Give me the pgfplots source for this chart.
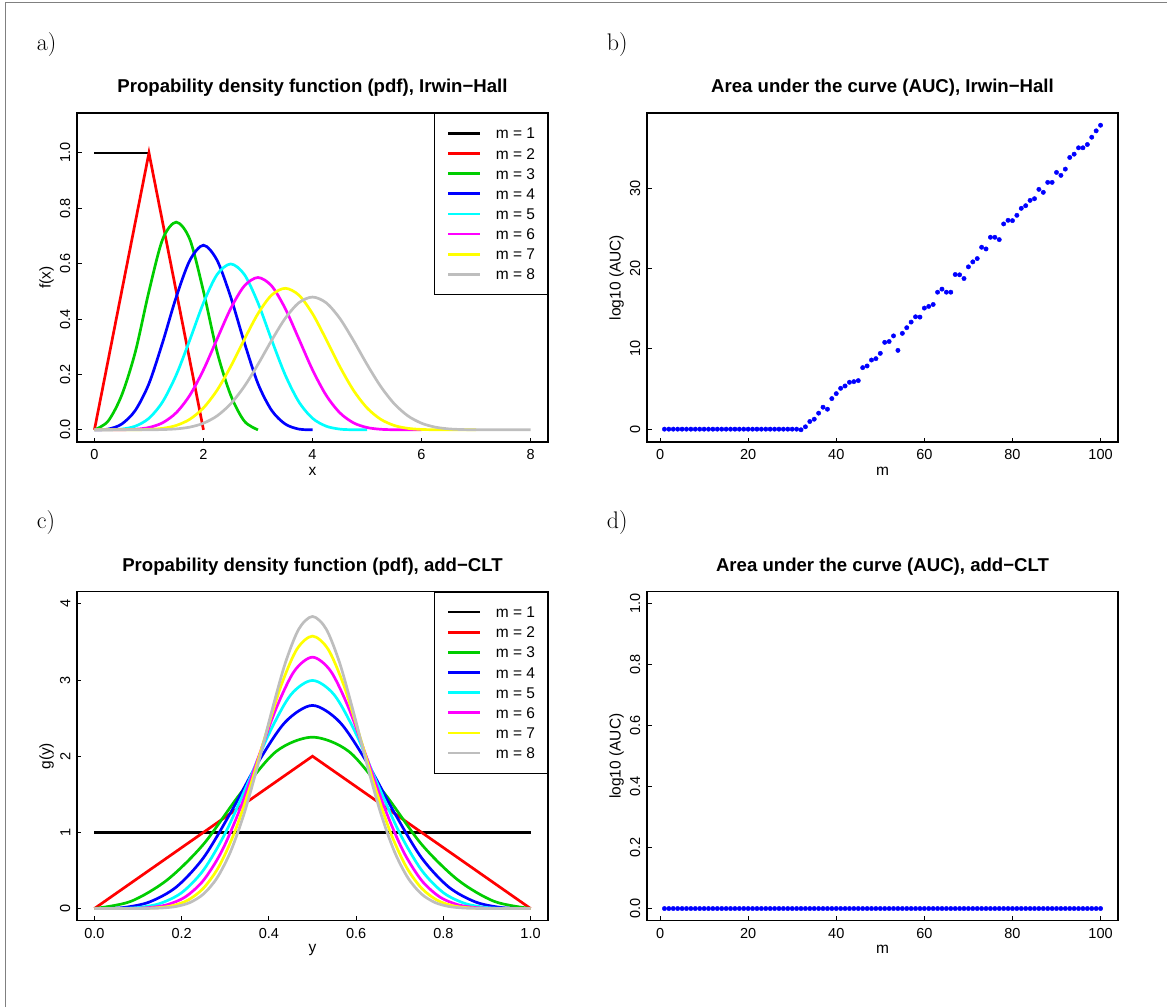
\documentclass[border=0pt]{standalone}
\usepackage{pgfplots}
\pgfplotsset{compat=1.18}
\usepackage{fontspec}
\newfontfamily\hv{Liberation Sans}

\definecolor{rgreen}{RGB}{0,205,0}
\definecolor{rcyan}{RGB}{0,255,255}
\definecolor{rmagenta}{RGB}{255,0,255}
\definecolor{ryellow}{RGB}{255,255,0}
\definecolor{rgray}{RGB}{190,190,190}
\definecolor{rframe}{RGB}{128,128,128}

\pgfplotsset{
  rplot/.style={
    scale only axis, width=471pt, height=329pt, anchor=north west,
    axis line style={line width=1.1pt},
    tick align=inside, major tick length=4.5pt,
    tick style={black, line width=0.9pt},
    xtick pos=left, ytick pos=left,
    /pgf/number format/assume math mode=true,
    tick label style={font=\hv\fontsize{14.5}{14.5}\selectfont},
    xticklabel style={inner sep=7.5pt},
    yticklabel style={rotate=90, anchor=south, inner sep=6.5pt},
    label style={font=\hv\fontsize{15.5}{15.5}\selectfont},
    xlabel style={at={(axis description cs:0.5,-0.088)}, anchor=center},
    ylabel style={at={(axis description cs:-0.0643,0.5)}, anchor=center},
    legend cell align=left,
    legend style={at={(1,1)}, anchor=north east, draw=black, line width=0.9pt,
      font=\hv\fontsize{15.5}{15.5}\selectfont,
      inner xsep=12.5pt, inner ysep=9.9pt, column sep=14.7pt, row sep=0pt,
      nodes={inner sep=0pt, minimum height=20.14pt, text height=11pt, text depth=0pt}},
    legend image code/.code={\draw[##1, line width=2.7pt] (0pt,0pt) -- (31.6pt,0pt);},
  },
  curve/.style={line width=2.7pt, color=#1},
  dots/.style={only marks, mark=*, mark size=2.2pt, color=blue},
}

\begin{document}
\begin{tikzpicture}
\useasboundingbox (0pt,0pt) rectangle (1167pt,-1007pt);
\draw[rframe, line width=1.3pt] (5.7pt,-1007pt) -- (5.7pt,-2.7pt) -- (1167pt,-2.7pt);

% panel letters
\node[anchor=base west, inner sep=0pt, font=\fontsize{24}{24}\selectfont] at (36.7pt,-50pt) {a)};
\node[anchor=base west, inner sep=0pt, font=\fontsize{24}{24}\selectfont] at (606.7pt,-50pt) {b)};
\node[anchor=base west, inner sep=0pt, font=\fontsize{24}{24}\selectfont] at (36.7pt,-528.7pt) {c)};
\node[anchor=base west, inner sep=0pt, font=\fontsize{24}{24}\selectfont] at (606.7pt,-528.7pt) {d)};

% titles
\node[anchor=base, inner sep=0pt, font=\hv\bfseries\fontsize{18.6}{18.6}\selectfont] at (312.5pt,-92.7pt) {Propability density function (pdf), Irwin−Hall};
\node[anchor=base, inner sep=0pt, font=\hv\bfseries\fontsize{18.6}{18.6}\selectfont] at (882.5pt,-92.7pt) {Area under the curve (AUC), Irwin−Hall};
\node[anchor=base, inner sep=0pt, font=\hv\bfseries\fontsize{18.6}{18.6}\selectfont] at (312.5pt,-571.4pt) {Propability density function (pdf), add−CLT};
\node[anchor=base, inner sep=0pt, font=\hv\bfseries\fontsize{18.6}{18.6}\selectfont] at (882.5pt,-571.4pt) {Area under the curve (AUC), add−CLT};

% a) Irwin-Hall densities
\begin{axis}[rplot, at={(77pt,-113pt)},
  xmin=-0.32, xmax=8.32, ymin=-0.044, ymax=1.144,
  xtick={0,2,4,6,8}, ytick={0,0.2,0.4,0.6,0.8,1},
  yticklabels={0.0,0.2,0.4,0.6,0.8,1.0},
  xlabel={x}, ylabel={f(x)}]
\addplot[curve=black] coordinates {(0,1)(0.5,1)(1,1)};
\addlegendentry{m = 1}
\addplot[curve=red] coordinates {(0,0)(1,1)(2,0)};
\addlegendentry{m = 2}
\addplot[curve=rgreen, smooth] coordinates {
 (0,0)(0.25,0.03125)(0.5,0.125)(0.75,0.28125)(1,0.5)(1.25,0.6875)(1.5,0.75)
 (1.75,0.6875)(2,0.5)(2.25,0.28125)(2.5,0.125)(2.75,0.03125)(3,0)};
\addlegendentry{m = 3}
\addplot[curve=blue, smooth] coordinates {
 (0,0)(0.25,0.0026042)(0.5,0.0208333)(0.75,0.0703125)(1,0.1666667)(1.25,0.3151042)
 (1.5,0.4791667)(1.75,0.6119792)(2,0.6666667)(2.25,0.6119792)(2.5,0.4791667)
 (2.75,0.3151042)(3,0.1666667)(3.25,0.0703125)(3.5,0.0208333)(3.75,0.0026042)(4,0)};
\addlegendentry{m = 4}
\addplot[curve=rcyan, smooth] coordinates {
 (0,0)(0.25,0.0001628)(0.5,0.0026042)(0.75,0.0131836)(1,0.0416667)(1.25,0.1009115)
 (1.5,0.1979167)(1.75,0.3248698)(2,0.4583333)(2.25,0.5608724)(2.5,0.5989583)
 (2.75,0.5608724)(3,0.4583333)(3.25,0.3248698)(3.5,0.1979167)(3.75,0.1009115)
 (4,0.0416667)(4.25,0.0131836)(4.5,0.0026042)(4.75,0.0001628)(5,0)};
\addlegendentry{m = 5}
\addplot[curve=rmagenta, smooth] coordinates {
 (0,0)(0.25,0.0000081)(0.5,0.0002604)(0.75,0.0019775)(1,0.0083333)(1.25,0.0253825)
 (1.5,0.0617188)(1.75,0.1249105)(2,0.2166667)(2.25,0.3280762)(2.5,0.4380208)
 (2.75,0.5196452)(3,0.55)(3.25,0.5196452)(3.5,0.4380208)(3.75,0.3280762)
 (4,0.2166667)(4.25,0.1249105)(4.5,0.0617188)(4.75,0.0253825)(5,0.0083333)
 (5.25,0.0019775)(5.5,0.0002604)(5.75,0.0000081)(6,0)};
\addlegendentry{m = 6}
\addplot[curve=ryellow, smooth] coordinates {
 (0,0)(0.25,0.0000003)(0.5,0.0000217)(0.75,0.0002472)(1,0.0013889)(1.25,0.0052958)
 (1.5,0.0156684)(1.75,0.0381626)(2,0.0791667)(2.25,0.143123)(2.5,0.2287977)
 (2.75,0.326649)(3,0.4194444)(3.25,0.4865221)(3.5,0.5110243)(3.75,0.4865221)
 (4,0.4194444)(4.25,0.326649)(4.5,0.2287977)(4.75,0.143123)(5,0.0791667)
 (5.25,0.0381626)(5.5,0.0156684)(5.75,0.0052958)(6,0.0013889)(6.25,0.0002472)
 (6.5,0.0000217)(6.75,0.0000003)(7,0)};
\addlegendentry{m = 7}
\addplot[curve=rgray, smooth] coordinates {
 (0,0)(0.25,0)(0.5,0.0000016)(0.75,0.0000265)(1,0.0001984)(1.25,0.000946)
 (1.5,0.0033777)(1.75,0.0097613)(2,0.0238095)(2.25,0.050354)(2.5,0.0940243)
 (2.75,0.1569483)(3,0.2363095)(3.25,0.3230044)(3.5,0.4025964)(3.75,0.4589594)
 (4,0.4793651)(4.25,0.4589594)(4.5,0.4025964)(4.75,0.3230044)(5,0.2363095)
 (5.25,0.1569483)(5.5,0.0940243)(5.75,0.050354)(6,0.0238095)(6.25,0.0097613)
 (6.5,0.0033777)(6.75,0.000946)(7,0.0001984)(7.25,0.0000265)(7.5,0.0000016)
 (7.75,0)(8,0)};
\addlegendentry{m = 8}
\end{axis}

% b) AUC Irwin-Hall
\begin{axis}[rplot, at={(647pt,-113pt)},
  xmin=-2.96, xmax=103.96, ymin=-1.6, ymax=39.33,
  xtick={0,20,40,60,80,100}, ytick={0,10,20,30},
  xlabel={m}, ylabel={log10 (AUC)}]
\addplot[dots] coordinates {
 (1,0)(2,0)(3,0)(4,0)(5,0)(6,0)(7,0)(8,0)(9,0)(10,0)
 (11,0)(12,0)(13,0)(14,0)(15,0)(16,0)(17,0)(18,0)(19,0)(20,0)
 (21,0)(22,0)(23,0)(24,0)(25,0)(26,0)(27,0)(28,0)(29,0)(30,0)
 (31,0)(32,-0.08)(33,0.29)(34,0.95)(35,1.24)(36,1.99)(37,2.73)(38,2.48)(39,3.8)(40,4.42)
 (41,5.08)(42,5.37)(43,5.83)(44,5.91)(45,6.04)(46,7.65)(47,7.86)(48,8.6)(49,8.77)(50,9.43)
 (51,10.8)(52,10.9)(53,11.6)(54,9.8)(55,11.92)(56,12.62)(57,13.32)(58,13.98)(59,13.94)(60,15.06)
 (61,15.27)(62,15.51)(63,17.04)(64,17.42)(65,17.04)(66,17.04)(67,19.24)(68,19.2)(69,18.74)(70,20.19)
 (71,20.81)(72,21.22)(73,22.63)(74,22.42)(75,23.87)(76,23.87)(77,23.58)(78,25.53)(79,25.98)(80,25.94)
 (81,26.6)(82,27.47)(83,27.8)(84,28.46)(85,28.67)(86,29.83)(87,29.46)(88,30.7)(89,30.7)(90,31.94)
 (91,31.57)(92,32.35)(93,33.8)(94,34.21)(95,35.0)(96,35.0)(97,35.41)(98,36.32)(99,37.11)(100,37.81)};
\end{axis}

% c) add-CLT densities
\begin{axis}[rplot, at={(77pt,-591.7pt)},
  xmin=-0.04, xmax=1.04, ymin=-0.16, ymax=4.16,
  xtick={0,0.2,0.4,0.6,0.8,1}, xticklabels={0.0,0.2,0.4,0.6,0.8,1.0},
  ytick={0,1,2,3,4},
  xlabel={y}, ylabel={g(y)}]
\addplot[curve=black] coordinates {(0,1)(0.5,1)(1,1)};
\addlegendentry{m = 1}
\addplot[curve=red] coordinates {(0,0)(0.5,2)(1,0)};
\addlegendentry{m = 2}
\addplot[curve=rgreen, smooth] coordinates {
 (0,0)(0.083333,0.09375)(0.166667,0.375)(0.25,0.84375)(0.333333,1.5)(0.416667,2.0625)
 (0.5,2.25)(0.583333,2.0625)(0.666667,1.5)(0.75,0.84375)(0.833333,0.375)(0.916667,0.09375)(1,0)};
\addlegendentry{m = 3}
\addplot[curve=blue, smooth] coordinates {
 (0,0)(0.0625,0.0104167)(0.125,0.0833333)(0.1875,0.28125)(0.25,0.6666667)(0.3125,1.2604167)
 (0.375,1.9166667)(0.4375,2.4479167)(0.5,2.6666667)(0.5625,2.4479167)(0.625,1.9166667)
 (0.6875,1.2604167)(0.75,0.6666667)(0.8125,0.28125)(0.875,0.0833333)(0.9375,0.0104167)(1,0)};
\addlegendentry{m = 4}
\addplot[curve=rcyan, smooth] coordinates {
 (0,0)(0.05,0.0008138)(0.1,0.0130208)(0.15,0.065918)(0.2,0.2083333)(0.25,0.5045573)
 (0.3,0.9895833)(0.35,1.624349)(0.4,2.2916667)(0.45,2.804362)(0.5,2.9947917)
 (0.55,2.804362)(0.6,2.2916667)(0.65,1.624349)(0.7,0.9895833)(0.75,0.5045573)
 (0.8,0.2083333)(0.85,0.065918)(0.9,0.0130208)(0.95,0.0008138)(1,0)};
\addlegendentry{m = 5}
\addplot[curve=rmagenta, smooth] coordinates {
 (0,0)(0.041667,0.0000488)(0.083333,0.0015625)(0.125,0.0118652)(0.166667,0.05)
 (0.208333,0.1522949)(0.25,0.3703125)(0.291667,0.7494629)(0.333333,1.3)(0.375,1.968457)
 (0.416667,2.628125)(0.458333,3.1178711)(0.5,3.3)(0.541667,3.1178711)(0.583333,2.628125)
 (0.625,1.968457)(0.666667,1.3)(0.708333,0.7494629)(0.75,0.3703125)(0.791667,0.1522949)
 (0.833333,0.05)(0.875,0.0118652)(0.916667,0.0015625)(0.958333,0.0000488)(1,0)};
\addlegendentry{m = 6}
\addplot[curve=ryellow, smooth] coordinates {
 (0,0)(0.035714,0.0000024)(0.071429,0.0001519)(0.107143,0.0017304)(0.142857,0.0097222)
 (0.178571,0.0370707)(0.214286,0.1096788)(0.25,0.2671382)(0.285714,0.5541667)
 (0.321429,1.0018609)(0.357143,1.6015839)(0.392857,2.286543)(0.428571,2.9361111)
 (0.464286,3.4056547)(0.5,3.5771701)(0.535714,3.4056547)(0.571429,2.9361111)
 (0.607143,2.286543)(0.642857,1.6015839)(0.678571,1.0018609)(0.714286,0.5541667)
 (0.75,0.2671382)(0.785714,0.1096788)(0.821429,0.0370707)(0.857143,0.0097222)
 (0.892857,0.0017304)(0.928571,0.0001519)(0.964286,0.0000024)(1,0)};
\addlegendentry{m = 7}
\addplot[curve=rgray, smooth] coordinates {
 (0,0)(0.03125,0)(0.0625,0.0000124)(0.09375,0.000212)(0.125,0.0015873)(0.15625,0.007568)
 (0.1875,0.0270216)(0.21875,0.0780904)(0.25,0.1904762)(0.28125,0.402832)(0.3125,0.7521944)
 (0.34375,1.2555864)(0.375,1.890476)(0.40625,2.5840352)(0.4375,3.2207712)(0.46875,3.6716752)
 (0.5,3.8349208)(0.53125,3.6716752)(0.5625,3.2207712)(0.59375,2.5840352)(0.625,1.890476)
 (0.65625,1.2555864)(0.6875,0.7521944)(0.71875,0.402832)(0.75,0.1904762)(0.78125,0.0780904)
 (0.8125,0.0270216)(0.84375,0.007568)(0.875,0.0015873)(0.90625,0.000212)(0.9375,0.0000124)
 (0.96875,0)(1,0)};
\addlegendentry{m = 8}
\end{axis}

% d) AUC add-CLT
\begin{axis}[rplot, at={(647pt,-591.7pt)},
  xmin=-2.96, xmax=103.96, ymin=-0.04, ymax=1.04,
  xtick={0,20,40,60,80,100}, ytick={0,0.2,0.4,0.6,0.8,1},
  yticklabels={0.0,0.2,0.4,0.6,0.8,1.0},
  xlabel={m}, ylabel={log10 (AUC)}]
\addplot[dots] coordinates {
 (1,0)(2,0)(3,0)(4,0)(5,0)(6,0)(7,0)(8,0)(9,0)(10,0)
 (11,0)(12,0)(13,0)(14,0)(15,0)(16,0)(17,0)(18,0)(19,0)(20,0)
 (21,0)(22,0)(23,0)(24,0)(25,0)(26,0)(27,0)(28,0)(29,0)(30,0)
 (31,0)(32,0)(33,0)(34,0)(35,0)(36,0)(37,0)(38,0)(39,0)(40,0)
 (41,0)(42,0)(43,0)(44,0)(45,0)(46,0)(47,0)(48,0)(49,0)(50,0)
 (51,0)(52,0)(53,0)(54,0)(55,0)(56,0)(57,0)(58,0)(59,0)(60,0)
 (61,0)(62,0)(63,0)(64,0)(65,0)(66,0)(67,0)(68,0)(69,0)(70,0)
 (71,0)(72,0)(73,0)(74,0)(75,0)(76,0)(77,0)(78,0)(79,0)(80,0)
 (81,0)(82,0)(83,0)(84,0)(85,0)(86,0)(87,0)(88,0)(89,0)(90,0)
 (91,0)(92,0)(93,0)(94,0)(95,0)(96,0)(97,0)(98,0)(99,0)(100,0)};
\end{axis}
\end{tikzpicture}
\end{document}
